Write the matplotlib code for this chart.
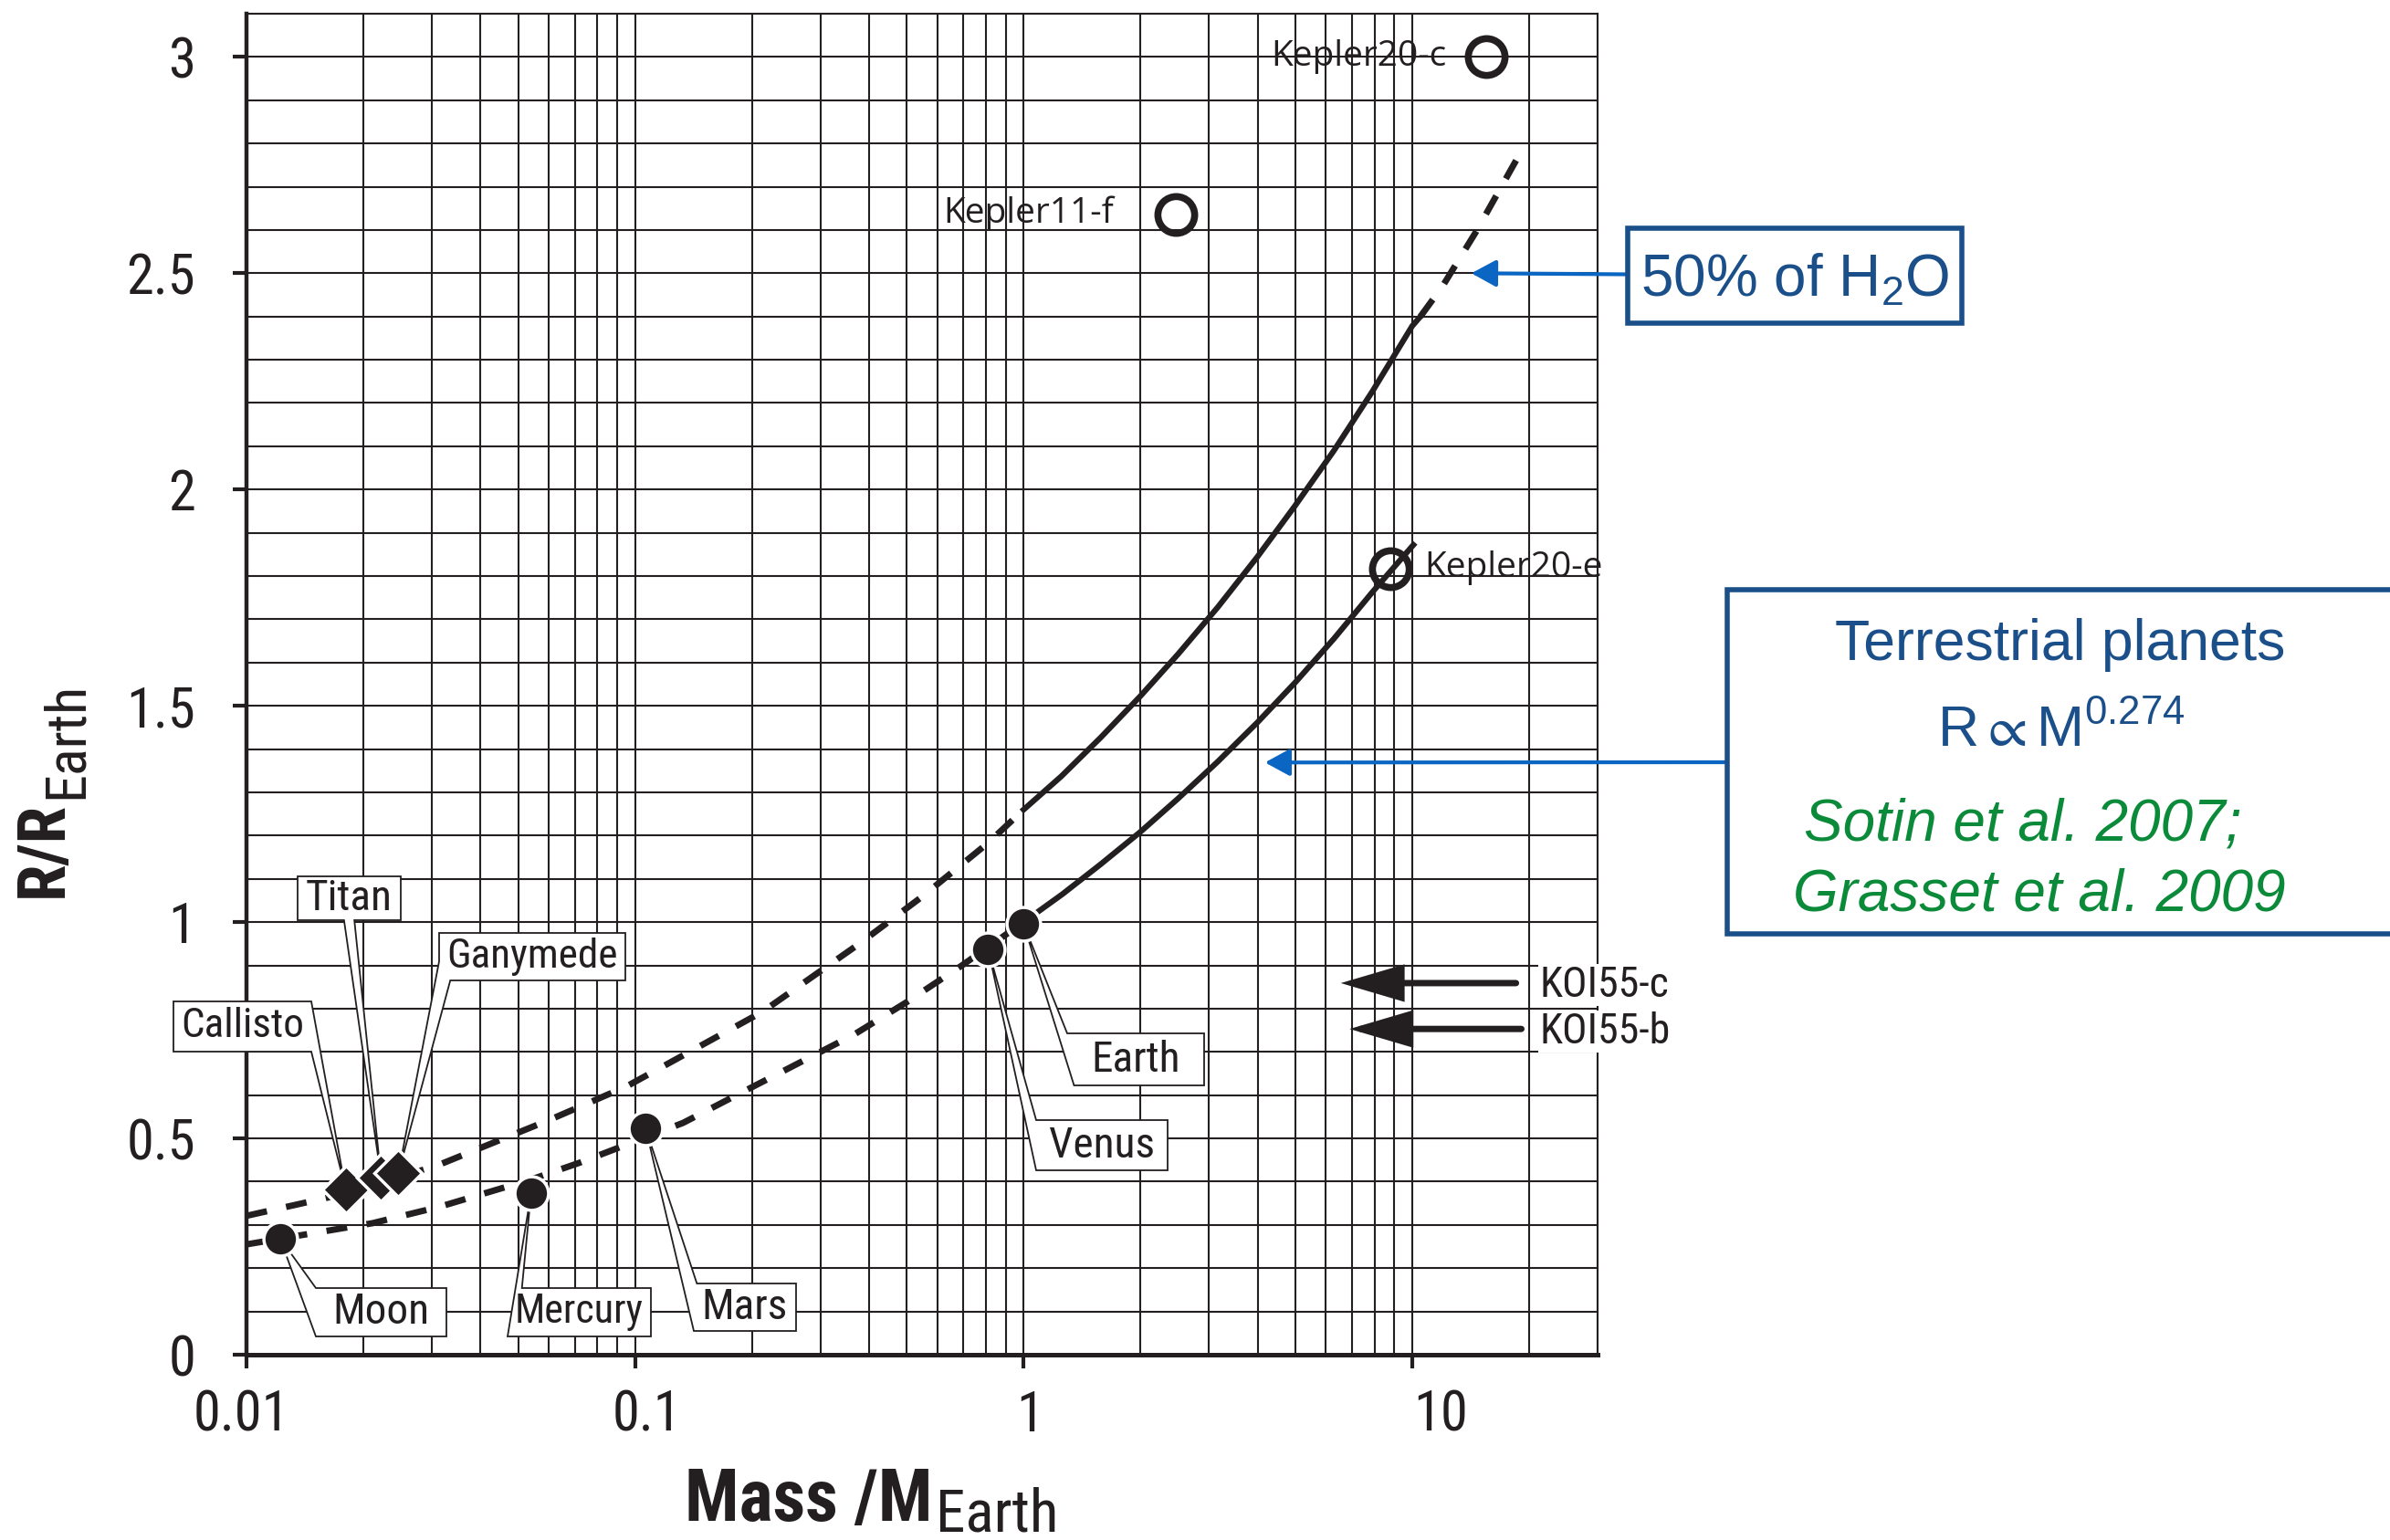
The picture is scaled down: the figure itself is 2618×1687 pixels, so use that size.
import os
import glob
import matplotlib
matplotlib.use("Agg")
import matplotlib.pyplot as plt
from matplotlib import font_manager
from matplotlib.font_manager import FontProperties
from matplotlib.patches import Polygon, Rectangle
from matplotlib.ticker import FixedLocator, NullFormatter
from matplotlib.transforms import ScaledTranslation

# ---------------- data ----------------
solar_names = ["Moon", "Mercury", "Mars", "Venus", "Earth"]
solar_mass = [0.0122, 0.054, 0.1065, 0.81, 1.0]
solar_radius = [0.269, 0.373, 0.523, 0.938, 0.995]

icy_names = ["Callisto", "Titan", "Ganymede"]
icy_mass = [0.0180, 0.0222, 0.0246]
icy_radius = [0.381, 0.410, 0.420]

exo_names = ["Kepler20-c", "Kepler11-f", "Kepler20-e"]
exo_mass = [15.5, 2.46, 8.8]
exo_radius = [3.0, 2.635, 1.817]

# lower (terrestrial) curve
rock_dash_mass = [0.01, 0.0211, 0.0314, 0.054, 0.0721, 0.133, 0.188, 0.366, 0.5, 0.689, 1.0]
rock_dash_radius = [0.255, 0.304, 0.342, 0.405, 0.444, 0.536, 0.606, 0.740, 0.815, 0.898, 1.0]
rock_solid_mass = [1.0, 1.26, 1.58, 2.0, 2.5, 3.16, 4.0, 5.0, 6.3, 7.9, 10.07]
rock_solid_radius = [1.0, 1.065, 1.134, 1.209, 1.286, 1.371, 1.462, 1.554, 1.656, 1.763, 1.872]

# upper (50% H2O) curve
water_dash_lo_mass = [0.01, 0.0175, 0.0309, 0.0603, 0.095, 0.146, 0.213, 0.379, 0.55, 0.81, 1.0]
water_dash_lo_radius = [0.321, 0.37, 0.437, 0.543, 0.62, 0.712, 0.793, 0.951, 1.06, 1.183, 1.26]
water_solid_mass = [1.0, 1.25, 1.58, 2.0, 2.5, 3.16, 4.0, 5.0, 6.3, 7.9, 10.0, 10.5]
water_solid_radius = [1.26, 1.337, 1.427, 1.523, 1.62, 1.728, 1.845, 1.963, 2.091, 2.227, 2.378, 2.40]
water_dash_hi_mass = [10.5, 11.97, 14.6, 19.5]
water_dash_hi_radius = [2.40, 2.47, 2.596, 2.797]

koi_names = ["KOI55-c", "KOI55-b"]
koi_radius = [0.859, 0.753]
koi_tip_mass = [6.55, 6.9]
koi_tail_mass = [18.5, 19.1]

h2o_arrow_tip = (14.2, 2.5)
terr_arrow_tip = (4.18, 1.369)

xtick_values = [0.01, 0.1, 1, 10]
xtick_labels = ["0.01", "0.1", "1", "10"]
ytick_values = [0, 0.5, 1, 1.5, 2, 2.5, 3]
ytick_labels = ["0", "0.5", "1", "1.5", "2", "2.5", "3"]

# ---------------- style ----------------
INK = "#231f20"
BLUE_TXT = "#1b4f8a"
BLUE_ARW = "#0a66c2"
GREEN = "#0b8a3a"

avail = {f.name for f in font_manager.fontManager.ttflist}
SANS = "Liberation Sans" if "Liberation Sans" in avail else "DejaVu Sans"
KFONT = "Open Sans" if "Open Sans" in avail else SANS

FILES = set(f.fname for f in font_manager.fontManager.ttflist)
for pat in ["/usr/share/fonts/**/*.ttf", "/usr/share/fonts/**/*.otf",
            "/usr/local/share/fonts/**/*.ttf", os.path.expanduser("~/.fonts/**/*.ttf")]:
    FILES.update(glob.glob(pat, recursive=True))


def pick(names):
    low = {os.path.basename(f).lower(): f for f in FILES}
    for n in names:
        if n.lower() in low:
            return low[n.lower()]
    return None


f_reg = pick(["LiberationSansNarrow-Regular.ttf", "RobotoCondensed-Regular.ttf",
              "DejaVuSansCondensed.ttf", "OpenSans_Condensed-Regular.ttf", "OpenSansCondensed-Regular.ttf"])
f_bold = pick(["LiberationSansNarrow-Bold.ttf", "RobotoCondensed-Bold.ttf",
               "DejaVuSansCondensed-Bold.ttf", "OpenSans_Condensed-Bold.ttf", "OpenSansCondensed-Bold.ttf"])


def fp_reg(size):
    if f_reg:
        return FontProperties(fname=f_reg, size=size)
    return FontProperties(family=SANS, size=size)


def fp_bold(size):
    if f_bold:
        return FontProperties(fname=f_bold, size=size)
    return FontProperties(family=SANS, weight="bold", size=size)


plt.rcParams["font.family"] = [SANS, "DejaVu Sans"]
plt.rcParams["mathtext.fontset"] = "custom"
plt.rcParams["mathtext.rm"] = SANS
plt.rcParams["mathtext.it"] = SANS + ":italic"
plt.rcParams["mathtext.bf"] = SANS + ":bold"

W, H = 2618, 1687
fig = plt.figure(figsize=(W / 100, H / 100), dpi=100)


def fx(x):
    return x / W


def fy(y):
    return 1 - y / H


ax_l, ax_r, ax_t, ax_b = 270, 1750, 15, 1484
ax = fig.add_axes([fx(ax_l), fy(ax_b), (ax_r - ax_l) / W, (ax_b - ax_t) / H])
ax.set_xscale("log")
ax.set_xlim(0.01, 30)
ax.set_ylim(0, 3.1)

ax.xaxis.set_major_locator(FixedLocator(xtick_values))
ax.xaxis.set_minor_locator(FixedLocator([k * 10.0 ** d for d in range(-2, 2) for k in range(2, 10)]))
ax.xaxis.set_minor_formatter(NullFormatter())
ax.set_xticklabels(xtick_labels)
ax.yaxis.set_major_locator(FixedLocator(ytick_values))
ax.yaxis.set_minor_locator(FixedLocator([i / 10 for i in range(1, 32)]))
ax.set_yticklabels(ytick_labels)

ax.grid(True, which="both", color=INK, lw=1.5)
ax.set_axisbelow(True)
ax.tick_params(which="minor", length=0)
ax.tick_params(which="major", direction="out", length=11, width=3, color=INK, labelcolor=INK)
ax.tick_params(axis="y", pad=29)
ax.tick_params(axis="x", pad=16)
for s in ["top", "right"]:
    ax.spines[s].set_linewidth(1.5)
    ax.spines[s].set_color(INK)
ax.spines["left"].set_linewidth(3.2)
ax.spines["bottom"].set_linewidth(3.6)
ax.spines["left"].set_color(INK)
ax.spines["bottom"].set_color(INK)

tick_labels = ax.get_xticklabels() + ax.get_yticklabels()
for lab in tick_labels:
    lab.set_fontproperties(fp_reg(47))

xlabel_dx_px = [-6, 13, 7, 31]
for lab, dx in zip(ax.get_xticklabels(), xlabel_dx_px):
    lab.set_transform(lab.get_transform() + ScaledTranslation(dx / 100, 0, fig.dpi_scale_trans))

# ---------------- curves ----------------
dash = (0, (3.3, 3.1))
ax.plot(rock_dash_mass, rock_dash_radius, ls=dash, lw=5, color=INK, dash_capstyle="butt", zorder=3)
ax.plot(rock_solid_mass, rock_solid_radius, ls="-", lw=4.5, color=INK, zorder=3)
ax.plot(water_dash_lo_mass, water_dash_lo_radius, ls=dash, lw=5, color=INK, dash_capstyle="butt", zorder=3)
ax.plot(water_solid_mass, water_solid_radius, ls="-", lw=4.5, color=INK, zorder=3)
ax.plot(water_dash_hi_mass, water_dash_hi_radius, ls=dash, lw=5, color=INK, dash_capstyle="butt", zorder=3)

# ---------------- markers ----------------
ax.plot(solar_mass, solar_radius, ls="none", marker="o", ms=26.5, mfc=INK, mec="white", mew=2.5, zorder=6,
        clip_on=False)
ax.plot(icy_mass, icy_radius, ls="none", marker="D", ms=26.5, mfc=INK, mec="white", mew=2.5, zorder=6,
        clip_on=False)
ax.plot(exo_mass, exo_radius, ls="none", marker="o", ms=29, mfc="none", mec=INK, mew=5.5, zorder=6,
        clip_on=False)

# ---------------- callouts ----------------
callout_boxes = {
    "Moon": (346, 1411, 489, 1464),
    "Mercury": (556, 1411, 713, 1464),
    "Mars": (760, 1406, 872, 1458),
    "Venus": (1135, 1227, 1279, 1282),
    "Earth": (1169, 1132, 1319, 1189),
    "Callisto": (190, 1097, 341, 1152),
    "Titan": (326, 960, 439, 1008),
    "Ganymede": (481, 1022, 685, 1074),
}
callout_shapes = {
    "Moon": [(0, 0), (1, 0), (1, 1), (0, 1), "tip"],
    "Mercury": [(0.1, 0), (1, 0), (1, 1), (0, 1), "tip"],
    "Mars": [(0.03, 0), (1, 0), (1, 1), (0, 1), "tip"],
    "Venus": [(0, 0), (1, 0), (1, 1), (0, 1), "tip"],
    "Earth": [(0, 0), (1, 0), (1, 1), (0.05, 1), "tip"],
    "Callisto": [(0, 0), (1, 0), "tip", (1, 1), (0, 1)],
    "Titan": [(0, 0), (1, 0), (1, 1), (0.55, 1), "tip", (0.45, 1), (0, 1)],
    "Ganymede": [(0, 0), (1, 0), (1, 1), (0.06, 1), "tip", (0, 0.6)],
}
positions = {}
for n, m, r in zip(solar_names, solar_mass, solar_radius):
    positions[n] = (m, r)
for n, m, r in zip(icy_names, icy_mass, icy_radius):
    positions[n] = (m, r)

callout_texts = []
for name, (x0, y0, x1, y1) in callout_boxes.items():
    dx_, dy_ = ax.transData.transform(positions[name])
    tip = (dx_ / W, dy_ / H)
    verts = []
    for v in callout_shapes[name]:
        if v == "tip":
            verts.append(tip)
        else:
            u, w = v
            verts.append((fx(x0 + u * (x1 - x0)), fy(y0 + w * (y1 - y0))))
    poly = Polygon(verts, closed=True, transform=fig.transFigure, facecolor="white",
                   edgecolor=INK, lw=1.3, zorder=4, clip_on=False, joinstyle="miter")
    ax.add_artist(poly)
    t = ax.text(fx((x0 + x1) / 2), fy((y0 + y1) / 2), name, transform=fig.transFigure, ha="center",
                va="center", fontproperties=fp_reg(34), color=INK, zorder=4.5, clip_on=False)
    callout_texts.append((t, x1 - x0 - 16))

# exoplanet labels
exo_label_pos = {"Kepler20-c": (1585, 72, "right"), "Kepler11-f": (1220, 244, "right"),
                 "Kepler20-e": (1560, 632, "left")}
for name in exo_names:
    x, y, ha = exo_label_pos[name]
    fig.text(fx(x), fy(y), name, ha=ha, va="baseline", fontsize=28, family=KFONT, color=INK, zorder=7)

# KOI55 arrows and labels
koi_label_pos = [(1686, 1092), (1686, 1143)]
koi_texts = []
for name, r, mt, mtail, (lx, ly) in zip(koi_names, koi_radius, koi_tip_mass, koi_tail_mass, koi_label_pos):
    ax.annotate("", xy=(mt, r), xytext=(mtail, r), xycoords="data", textcoords="data",
                arrowprops=dict(arrowstyle="-|>,head_length=3.9,head_width=1.15", mutation_scale=10,
                                lw=5, color=INK, shrinkA=0, shrinkB=0, joinstyle="miter"),
                zorder=5, annotation_clip=False)
    t = fig.text(fx(lx), fy(ly), name, ha="left", va="baseline", fontproperties=fp_reg(33), color=INK,
                 bbox=dict(facecolor="white", edgecolor="none", pad=1), zorder=7)
    koi_texts.append((t, 145))

# ---------------- blue boxes ----------------
fig.patches.append(Rectangle((fx(1783), fy(354)), (2149 - 1783) / W, (354 - 250) / H,
                             transform=fig.transFigure, facecolor="white", edgecolor=BLUE_TXT, lw=4))
fig.text(fx(1966), fy(325), r"$\mathregular{50\%\ of\ H_2O}$", ha="center", va="baseline",
         fontsize=46, family=SANS, color=BLUE_TXT)

fig.patches.append(Rectangle((fx(1892), fy(1023)), (2640 - 1892) / W, (1023 - 646) / H,
                             transform=fig.transFigure, facecolor="white", edgecolor=BLUE_TXT, lw=4))
fig.text(fx(2257), fy(723), "Terrestrial planets", ha="center", va="baseline", fontsize=45,
         family=SANS, color=BLUE_TXT)
fig.text(fx(2258), fy(818), r"$\mathregular{R \propto M^{0.274}}$", ha="center", va="baseline",
         fontsize=45, family=SANS, color=BLUE_TXT)
fig.text(fx(2216), fy(921), "Sotin et al. 2007;", ha="center", va="baseline", fontsize=46,
         family=SANS, style="italic", color=GREEN)
fig.text(fx(2234), fy(997), "Grasset et al. 2009", ha="center", va="baseline", fontsize=46,
         family=SANS, style="italic", color=GREEN)

blue_arrow = dict(arrowstyle="-|>,head_length=1.65,head_width=0.9", mutation_scale=10, lw=3,
                  color=BLUE_ARW, shrinkA=0, shrinkB=0)
ax.annotate("", xy=h2o_arrow_tip, xycoords="data", xytext=(fx(1783), fy(300.5)),
            textcoords="figure fraction", arrowprops=blue_arrow, annotation_clip=False, zorder=7)
ax.annotate("", xy=terr_arrow_tip, xycoords="data", xytext=(fx(1892), fy(835)),
            textcoords="figure fraction", arrowprops=blue_arrow, annotation_clip=False, zorder=7)

# ---------------- axis labels ----------------
xl_main = fig.text(fx(750), fy(1666), "Mass /M", ha="left", va="baseline", fontproperties=fp_bold(60),
                   color=INK)
xl_sub = fig.text(fx(1022), fy(1678), "Earth", ha="left", va="baseline", fontproperties=fp_reg(47),
                  color=INK)
yl_main = fig.text(fx(68), fy(983), "R/R", ha="left", va="baseline", rotation=90, rotation_mode="anchor",
                   fontproperties=fp_bold(53), color=INK)
yl_sub = fig.text(fx(90), fy(873), "Earth", ha="left", va="baseline", rotation=90, rotation_mode="anchor",
                  fontproperties=fp_reg(46), color=INK)

# ---------------- fit text widths to the reference layout ----------------
fig.canvas.draw()
rend = fig.canvas.get_renderer()


def shrink_to(t, target, vertical=False):
    bb = t.get_window_extent(rend)
    w = bb.height if vertical else bb.width
    if w > target:
        t.set_fontsize(t.get_fontsize() * target / w)


bb = ax.get_xticklabels()[0].get_window_extent(rend)
if bb.width > 106:
    k = 106 / bb.width
    for lab in tick_labels:
        lab.set_fontsize(lab.get_fontsize() * k)
for t, target in callout_texts + koi_texts:
    shrink_to(t, target)
shrink_to(xl_main, 272)
shrink_to(xl_sub, 137)
shrink_to(yl_main, 105, vertical=True)
shrink_to(yl_sub, 128, vertical=True)

fig.canvas.draw()
bbm = xl_main.get_window_extent(rend)
xl_sub.set_x((bbm.x1 + 3) / W)
bby = yl_main.get_window_extent(rend)
yl_sub.set_y((bby.y1 + 3) / H)

fig.savefig("out.png", dpi=100)
